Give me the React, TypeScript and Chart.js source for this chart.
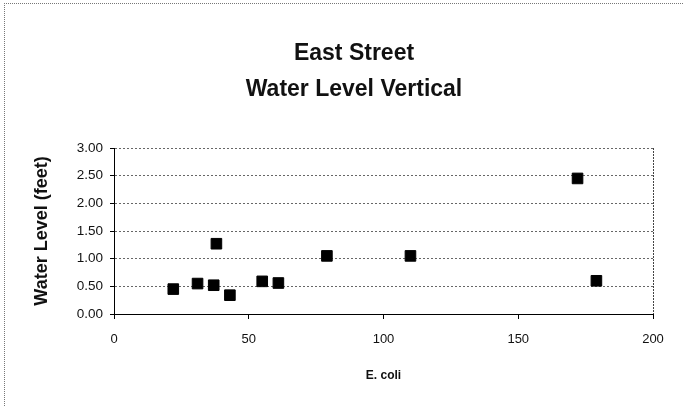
import { useEffect, useRef } from "react";
import { Chart, registerables } from "chart.js";

Chart.register(...registerables);

// Chart text
const titleLines = ["East Street", "Water Level Vertical"];
const xAxisTitle = "E. coli";
const yAxisTitle = "Water Level (feet)";

// Sample readings: E. coli count vs. vertical water level (feet)
const eColi = [22, 31, 37, 38, 43, 55, 61, 79, 110, 172, 179];
const waterLevel = [0.45, 0.55, 0.52, 1.27, 0.34, 0.59, 0.56, 1.05, 1.05, 2.45, 0.6];

// Axis ranges and tick steps
const xRange = [0, 200];
const xStep = 50;
const yRange = [0, 3];
const yStep = 0.5;

const FONT = "'Liberation Sans', Arial, Helvetica, sans-serif";

// Two-line heading drawn over the canvas
const headingPlugin = {
  id: "heading",
  afterDraw(chart: any) {
    const { ctx } = chart;
    ctx.save();
    ctx.font = `bold 23px ${FONT}`;
    ctx.fillStyle = "#111";
    ctx.textAlign = "center";
    ctx.textBaseline = "alphabetic";
    titleLines.forEach((line, i) => ctx.fillText(line, 354, 60 + i * 36));
    ctx.restore();
  },
};

// Dotted right edge of the plot area
const plotEdgePlugin = {
  id: "plotEdge",
  afterDatasetsDraw(chart: any) {
    const { ctx, chartArea } = chart;
    ctx.save();
    ctx.strokeStyle = "#444";
    ctx.lineWidth = 1;
    ctx.setLineDash([2, 1]);
    const x = Math.round(chartArea.right) + 0.5;
    ctx.beginPath();
    ctx.moveTo(x, chartArea.top);
    ctx.lineTo(x, chartArea.bottom);
    ctx.stroke();
    ctx.restore();
  },
};

export default function App() {
  const canvasRef = useRef<HTMLCanvasElement | null>(null);

  useEffect(() => {
    if (!canvasRef.current) return;
    const points = eColi.map((x, i) => ({ x, y: waterLevel[i] }));

    const chart = new Chart(canvasRef.current, {
      type: "scatter",
      data: {
        datasets: [
          {
            label: yAxisTitle,
            data: points,
            pointStyle: "rect",
            pointRadius: 7.5,
            pointBackgroundColor: "#000",
            pointBorderColor: "#000",
            pointBorderWidth: 1,
          },
        ],
      },
      options: {
        responsive: false,
        animation: false,
        devicePixelRatio: 1,
        layout: { padding: { left: 20, right: 31, top: 148, bottom: 0 } },
        plugins: {
          legend: { display: false },
          tooltip: { enabled: false },
          title: { display: false },
        },
        scales: {
          x: {
            type: "linear",
            min: xRange[0],
            max: xRange[1],
            afterFit(scale: any) {
              scale.height = 92;
            },
            ticks: {
              stepSize: xStep,
              padding: 13,
              color: "#111",
              font: { family: FONT, size: 13 },
            },
            grid: {
              drawOnChartArea: false,
              drawTicks: true,
              tickLength: 5,
              tickColor: "#000",
            },
            border: { display: true, color: "#000", width: 1 },
            title: {
              display: true,
              text: xAxisTitle,
              color: "#111",
              font: { family: FONT, size: 12, weight: "bold" },
              padding: { top: 0, bottom: 23 },
            },
          },
          y: {
            type: "linear",
            min: yRange[0],
            max: yRange[1],
            afterFit(scale: any) {
              scale.width = 94;
            },
            ticks: {
              stepSize: yStep,
              padding: 7,
              color: "#111",
              font: { family: FONT, size: 13.5 },
              callback: (v: any) => Number(v).toFixed(2),
            },
            grid: {
              color: (c: any) => (c.tick && c.tick.value === 0 ? "rgba(0,0,0,0)" : "#666"),
              lineWidth: 1,
              drawTicks: true,
              tickLength: 4,
              tickColor: "#000",
            },
            border: { display: true, color: "#000", width: 1, dash: [2, 2] },
            title: {
              display: true,
              text: yAxisTitle,
              color: "#111",
              font: { family: FONT, size: 18, weight: "bold" },
              padding: { top: 11, bottom: 0 },
            },
          },
        },
      },
      plugins: [headingPlugin, plotEdgePlugin],
    });

    return () => chart.destroy();
  }, []);

  return (
    <div
      style={{
        position: "fixed",
        left: 0,
        top: 0,
        width: 684,
        height: 406,
        background: "#fff",
        overflow: "hidden",
      }}
    >
      <canvas ref={canvasRef} width={684} height={406} style={{ width: 684, height: 406, display: "block" }} />
      <div
        style={{
          position: "absolute",
          left: 4,
          top: 3,
          width: 700,
          height: 420,
          borderTop: "1px dotted #777",
          borderLeft: "1px dotted #777",
          pointerEvents: "none",
        }}
      />
    </div>
  );
}
